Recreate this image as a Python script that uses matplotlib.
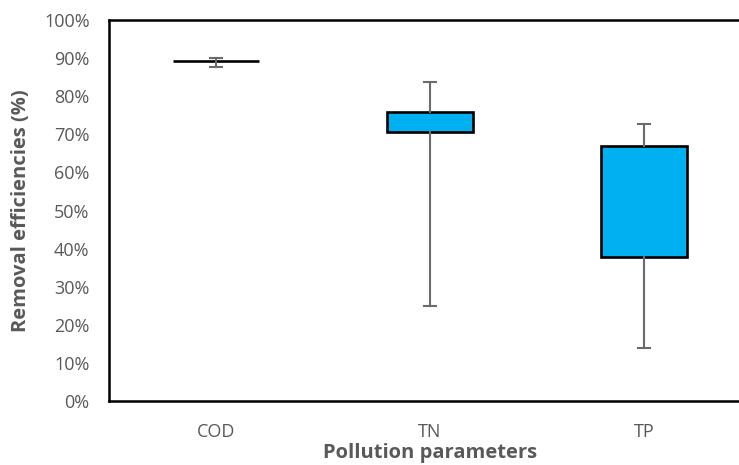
import matplotlib
matplotlib.use("Agg")
import matplotlib.pyplot as plt

# Data (removal efficiency, %)
categories = ["COD", "TN", "TP"]
q1 = [89.3, 70.6, 37.9]
q3 = [89.3, 75.9, 67.0]
whisker_low = [87.7, 25.0, 13.8]
whisker_high = [90.0, 83.8, 72.7]
y_ticks = list(range(0, 101, 10))

plt.rcParams["font.family"] = ["Open Sans", "DejaVu Sans"]
gray = "#595959"

stats = []
for name, lo, a, b, hi in zip(categories, whisker_low, q1, q3, whisker_high):
    stats.append({"label": name, "whislo": lo, "q1": a, "med": (a + b) / 2,
                  "q3": b, "whishi": hi, "fliers": []})

fig = plt.figure(figsize=(7.39, 4.65), dpi=100)
ax = fig.add_axes([109 / 739, 64 / 465, 642 / 739, 381 / 465])

ax.bxp(stats, positions=[1, 2, 3], widths=0.4, capwidths=0.06,
       patch_artist=True, showfliers=False,
       boxprops=dict(facecolor="#00B0F0", edgecolor="black", linewidth=1.9),
       whiskerprops=dict(color="#6b6b6b", linewidth=1.5),
       capprops=dict(color="#6b6b6b", linewidth=1.5),
       medianprops=dict(linewidth=0))

ax.set_xlim(0.5, 3.5)
ax.set_ylim(0, 100)
ax.set_yticks(y_ticks)
ax.set_yticklabels([f"{v}%" for v in y_ticks])
ax.tick_params(axis="both", length=0, labelsize=13, labelcolor=gray)
ax.tick_params(axis="y", pad=14)
ax.tick_params(axis="x", pad=16)

for s in ax.spines.values():
    s.set_linewidth(1.8)
    s.set_color("black")

ax.set_ylabel("Removal efficiencies (%)", fontsize=14.5, fontweight="bold",
              color=gray, labelpad=9)
ax.set_xlabel("Pollution parameters", fontsize=14.5, fontweight="bold",
              color=gray, labelpad=1)

fig.savefig("out.png", dpi=100)
